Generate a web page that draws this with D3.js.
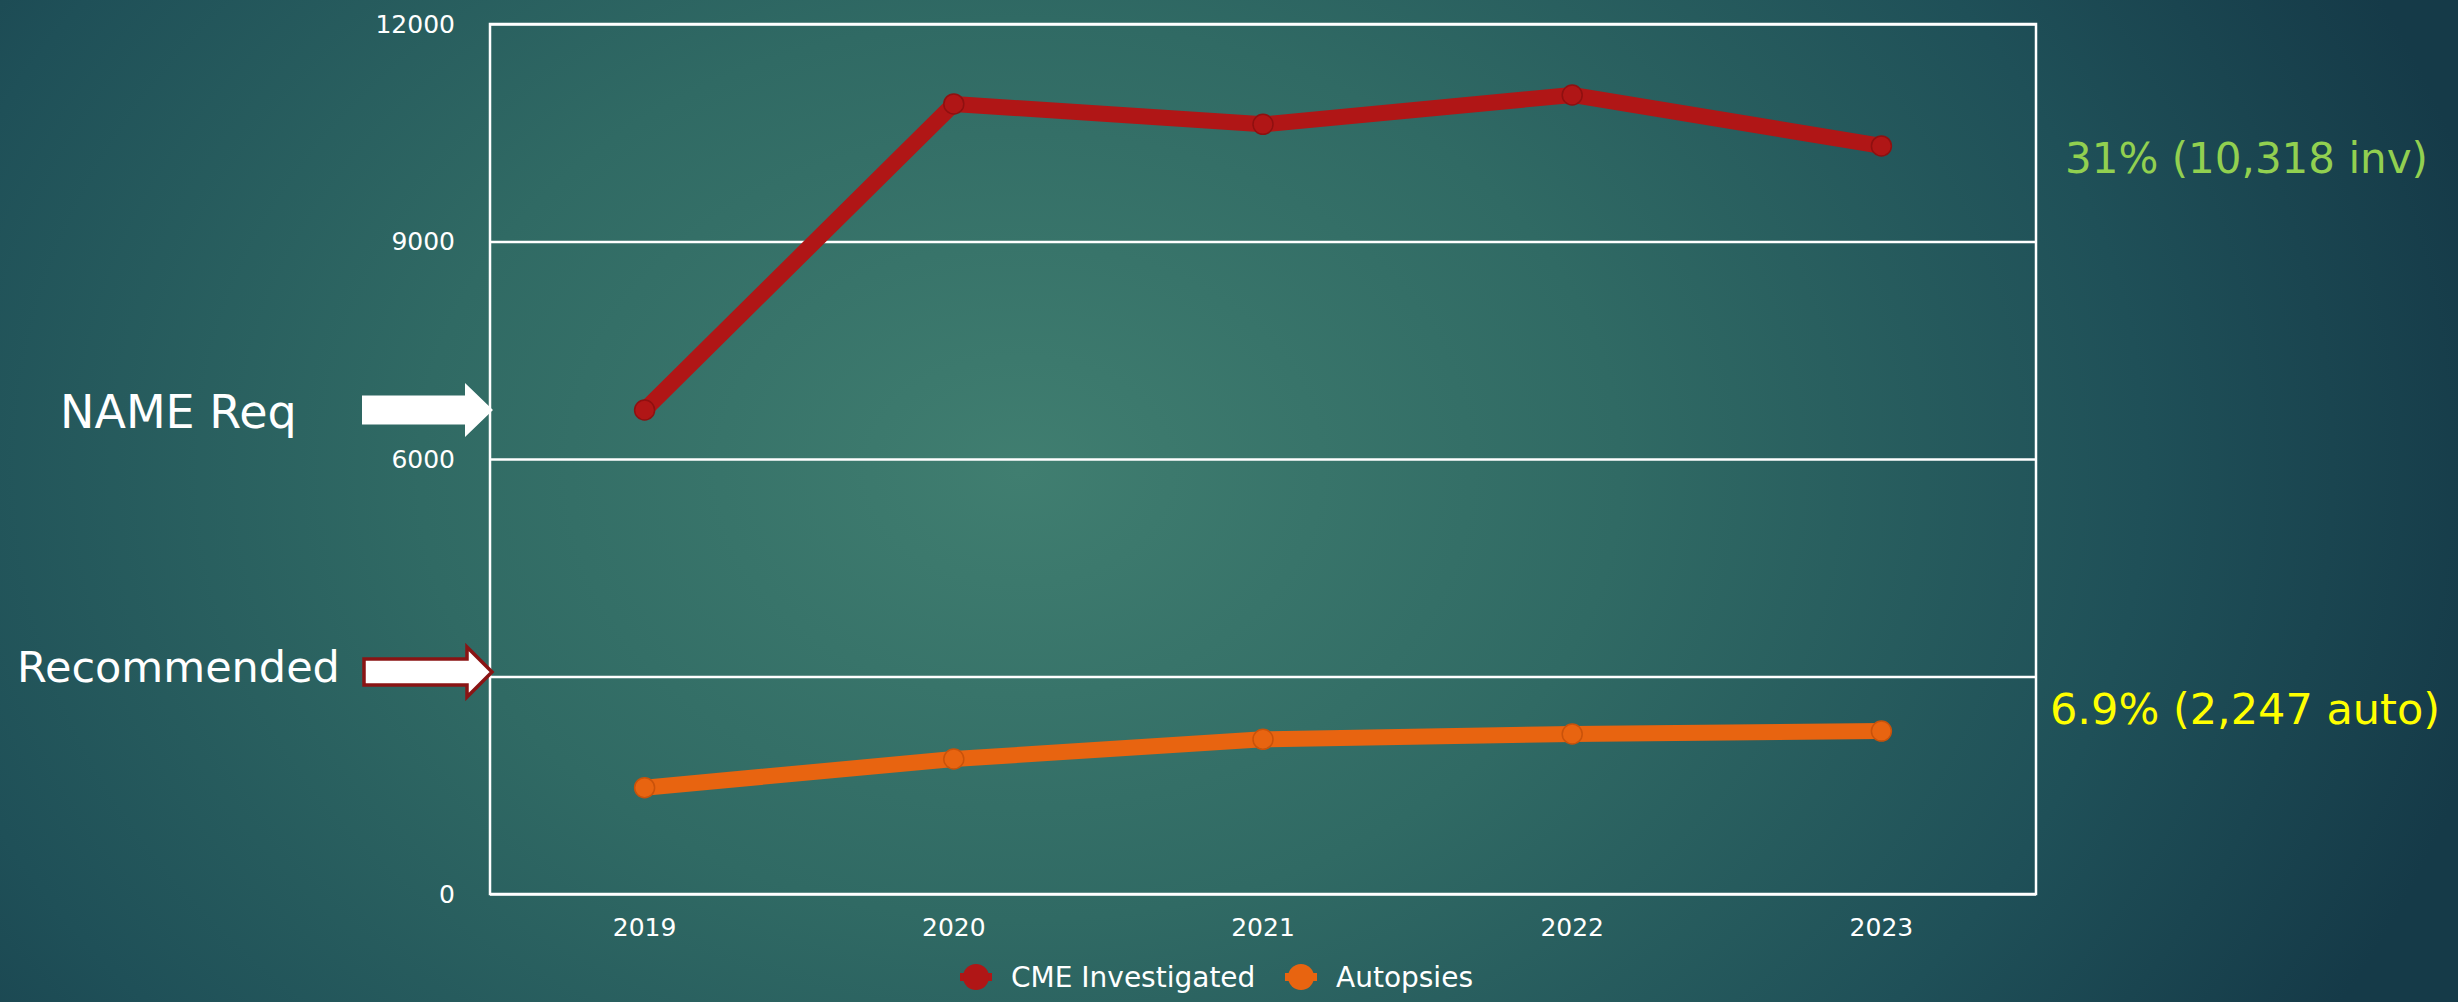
<!DOCTYPE html>
<html>
<head>
<meta charset="utf-8">
<script src="https://cdn.jsdelivr.net/npm/d3@7"></script>
<style>
    html, body { margin: 0; padding: 0; overflow: hidden; }
    svg { display: block; }
</style>
</head>
<body>
<svg id="chart"></svg>
<script>
const width = 2458, height = 1002;
const margin = { top: 24, right: 422, bottom: 108, left: 490 };

// data
const years = ["2019", "2020", "2021", "2022", "2023"];
const cmeInvestigated = [6676, 10897, 10616, 11021, 10318];
const autopsies = [1466, 1862, 2134, 2207, 2247];
const yTicks = [0, 3000, 6000, 9000, 12000];
const seriesNames = ["CME Investigated", "Autopsies"];
const seriesColors = ["#b01616", "#e86410"];
const markerStroke = ["#8f1010", "#c9520a"];

const font = "'DejaVu Sans', sans-serif";

const svg = d3.select("#chart")
    .attr("width", width)
    .attr("height", height);

// slide background
const defs = svg.append("defs");
const grad = defs.append("radialGradient")
    .attr("id", "bg")
    .attr("gradientUnits", "userSpaceOnUse")
    .attr("cx", 1020).attr("cy", 470).attr("r", 1500)
    .attr("gradientTransform", "translate(1020,470) scale(1,0.75) translate(-1020,-470)");
grad.append("stop").attr("offset", "0%").attr("stop-color", "#407e70");
grad.append("stop").attr("offset", "40%").attr("stop-color", "#306a64");
grad.append("stop").attr("offset", "75%").attr("stop-color", "#1f5058");
grad.append("stop").attr("offset", "100%").attr("stop-color", "#153a48");

svg.append("rect")
    .attr("width", width).attr("height", height)
    .attr("fill", "url(#bg)");

const x = d3.scaleBand()
    .domain(years)
    .range([margin.left, width - margin.right]);

const y = d3.scaleLinear()
    .domain([0, 12000])
    .range([height - margin.bottom, margin.top]);

const px = d => x(d) + x.bandwidth() / 2;

// gridlines
svg.append("g")
    .attr("transform", `translate(${margin.left},0)`)
    .call(d3.axisLeft(y).tickValues(yTicks).tickSize(-(width - margin.left - margin.right)).tickFormat(""))
    .call(g => g.select(".domain").remove())
    .call(g => g.selectAll("line").attr("stroke", "#ffffff").attr("stroke-width", 2.5));

// plot frame
svg.append("rect")
    .attr("x", margin.left).attr("y", margin.top)
    .attr("width", width - margin.left - margin.right)
    .attr("height", height - margin.top - margin.bottom)
    .attr("fill", "none")
    .attr("stroke", "#ffffff")
    .attr("stroke-width", 2.5);

// y axis labels
svg.append("g")
    .attr("transform", `translate(${margin.left},0)`)
    .call(d3.axisLeft(y).tickValues(yTicks).tickSize(0).tickPadding(35).tickFormat(d3.format("d")))
    .call(g => g.select(".domain").remove())
    .call(g => g.selectAll("text")
        .attr("fill", "#ffffff")
        .style("font-family", font)
        .style("font-size", "25px"));

// x axis labels
svg.append("g")
    .attr("transform", `translate(0,${height - margin.bottom})`)
    .call(d3.axisBottom(x).tickSize(0).tickPadding(24))
    .call(g => g.select(".domain").remove())
    .call(g => g.selectAll("text")
        .attr("fill", "#ffffff")
        .style("font-family", font)
        .style("font-size", "25px"));

// lines
const series = [cmeInvestigated, autopsies];
const line = d3.line()
    .x((d, i) => px(years[i]))
    .y(d => y(d));

series.forEach((vals, k) => {
    svg.append("path")
        .datum(vals)
        .attr("d", line)
        .attr("fill", "none")
        .attr("stroke", seriesColors[k])
        .attr("stroke-width", 16)
        .attr("stroke-linejoin", "round");

    svg.selectAll(".m" + k)
        .data(vals)
        .enter()
        .append("circle")
        .attr("class", "m" + k)
        .attr("cx", (d, i) => px(years[i]))
        .attr("cy", d => y(d))
        .attr("r", 10)
        .attr("fill", seriesColors[k])
        .attr("stroke", markerStroke[k])
        .attr("stroke-width", 1.5);
});

// arrows pointing at the axis
function arrowPath(x0, x1, headX, tipY, shaftH, headH) {
    return `M${x0},${tipY - shaftH / 2} L${headX},${tipY - shaftH / 2} L${headX},${tipY - headH / 2}
            L${x1},${tipY} L${headX},${tipY + headH / 2} L${headX},${tipY + shaftH / 2}
            L${x0},${tipY + shaftH / 2} Z`;
}

svg.append("path")
    .attr("d", arrowPath(362, 493, 465, 410, 29, 54))
    .attr("fill", "#ffffff");

svg.append("path")
    .attr("d", arrowPath(364, 492, 467, 672, 26, 50))
    .attr("fill", "#ffffff")
    .attr("stroke", "#8a1414")
    .attr("stroke-width", 3.5)
    .attr("stroke-linejoin", "miter");

svg.append("text")
    .attr("x", 60).attr("y", 428)
    .attr("fill", "#ffffff")
    .style("font-family", font)
    .style("font-size", "46px")
    .text("NAME Req");

svg.append("text")
    .attr("x", 17).attr("y", 682)
    .attr("fill", "#ffffff")
    .style("font-family", font)
    .style("font-size", "43px")
    .text("Recommended");

// right side notes
svg.append("text")
    .attr("x", 2065).attr("y", 173)
    .attr("fill", "#92d050")
    .style("font-family", font)
    .style("font-size", "42px")
    .text("31% (10,318 inv)");

svg.append("text")
    .attr("x", 2050).attr("y", 724)
    .attr("fill", "#ffff00")
    .style("font-family", font)
    .style("font-size", "43px")
    .text("6.9% (2,247 auto)");

// legend
const legendX = [976, 1301];
const legend = svg.append("g").attr("transform", "translate(0,977)");
seriesNames.forEach((name, k) => {
    legend.append("line")
        .attr("x1", legendX[k] - 16).attr("x2", legendX[k] + 16)
        .attr("stroke", seriesColors[k])
        .attr("stroke-width", 8);
    legend.append("circle")
        .attr("cx", legendX[k]).attr("r", 13)
        .attr("fill", seriesColors[k]);
    legend.append("text")
        .attr("x", legendX[k] + 35)
        .attr("dy", "0.35em")
        .attr("fill", "#ffffff")
        .style("font-family", font)
        .style("font-size", "28px")
        .text(name);
});
</script>
</body>
</html>
